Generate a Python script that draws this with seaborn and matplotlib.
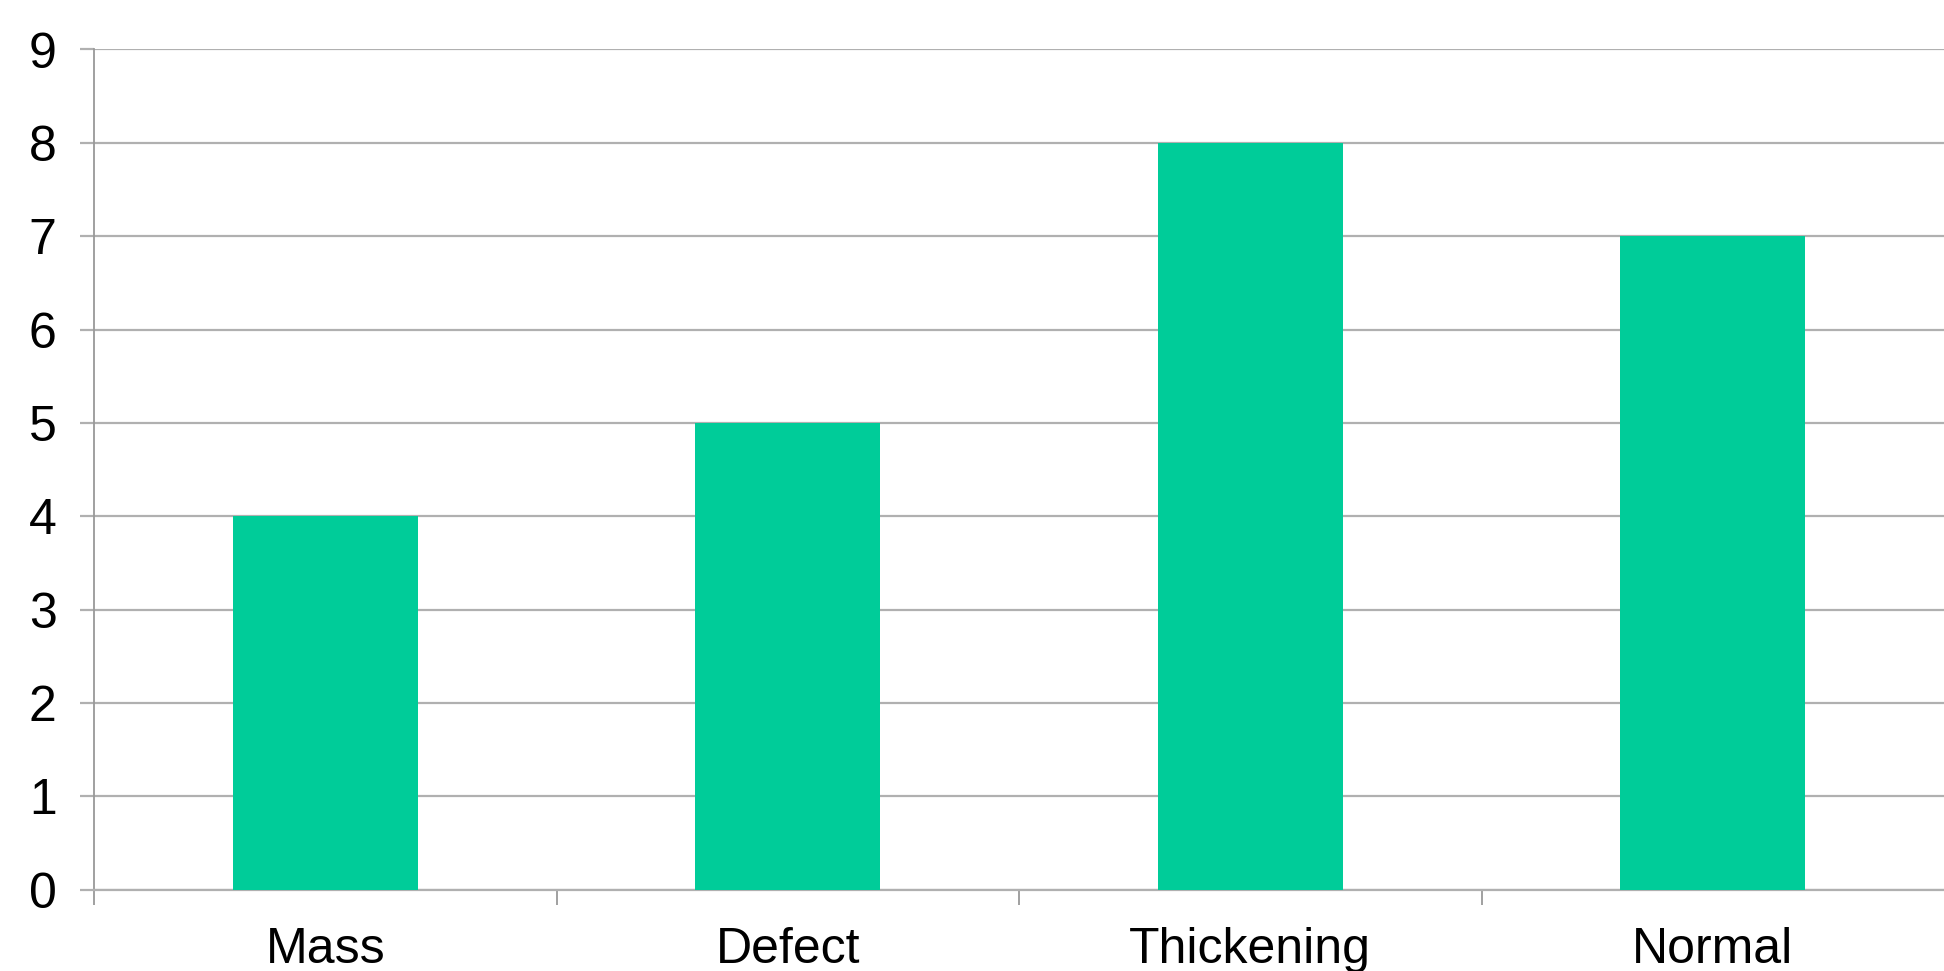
import matplotlib
matplotlib.use("Agg")
import matplotlib.pyplot as plt
from matplotlib.ticker import FixedLocator
import seaborn as sns
import pandas as pd

categories = ["Mass", "Defect", "Thickening", "Normal"]
counts = [4, 5, 8, 7]

sns.set_theme(style="white")
plt.rcParams["font.family"] = ["Liberation Sans", "DejaVu Sans"]

df = pd.DataFrame({"category": categories, "count": counts})

fig = plt.figure(figsize=(19.44, 9.71), dpi=100)
ax = fig.add_axes([94 / 1944, 1 - 889.5 / 971, 1 - 94 / 1944, (889.5 - 49.5) / 971])

sns.barplot(data=df, x="category", y="count", color="#00CC99", width=0.4,
            saturation=1, linewidth=0, ax=ax, zorder=3)

grid_color = "#B0B0B0"
ax.set_ylim(0, 9)
ax.set_xlim(-0.5, len(categories) - 0.5)
ax.set_yticks(range(0, 10))
ax.yaxis.grid(True, color=grid_color, linewidth=1.6, zorder=0)
ax.xaxis.grid(False)
ax.set_axisbelow(True)

for side in ["top", "right"]:
    ax.spines[side].set_visible(False)
ax.spines["left"].set_color("#999999")
ax.spines["left"].set_linewidth(1.3)
ax.spines["bottom"].set_color(grid_color)
ax.spines["bottom"].set_linewidth(1.6)

ax.tick_params(axis="y", which="major", length=10, width=1.6, color=grid_color,
               direction="out", labelsize=36, pad=17, left=True, labelcolor="black")
ax.tick_params(axis="x", which="major", length=0, labelsize=36, pad=27,
               labelcolor="black")
ax.xaxis.set_minor_locator(FixedLocator([i - 0.5 for i in range(len(categories))]))
ax.tick_params(axis="x", which="minor", length=11, width=1.3, color="#999999",
               direction="out", bottom=True)

ax.set_xlabel("")
ax.set_ylabel("")

fig.savefig("out.png", dpi=100, facecolor="white")
